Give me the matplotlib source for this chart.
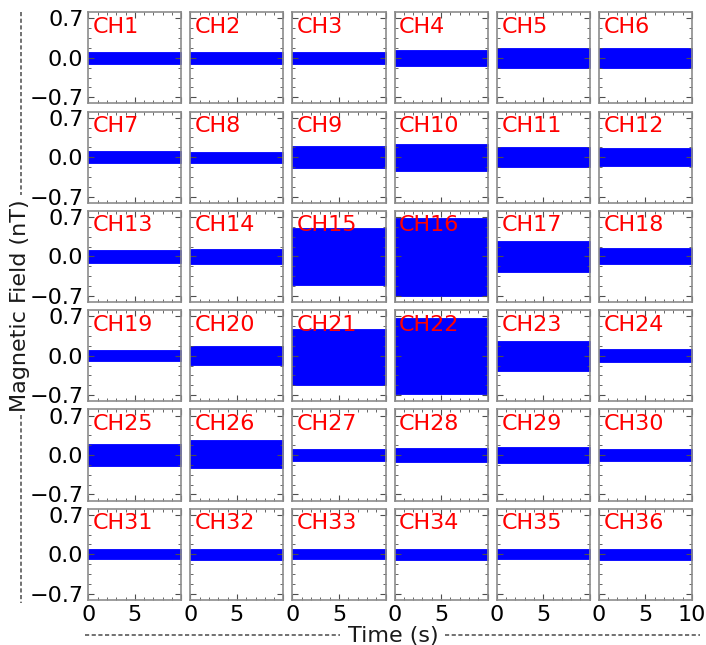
import numpy as np
import matplotlib
matplotlib.use("Agg")
import matplotlib.pyplot as plt
from matplotlib.lines import Line2D
from matplotlib.ticker import AutoMinorLocator

# channel names and the upper / lower edge of each noise band (nT)
channels = ["CH%d" % i for i in range(1, 37)]
upper = [0.10, 0.10, 0.10, 0.14, 0.18, 0.18,
         0.11, 0.10, 0.19, 0.24, 0.18, 0.16,
         0.11, 0.14, 0.50, 0.69, 0.28, 0.15,
         0.10, 0.17, 0.47, 0.67, 0.26, 0.12,
         0.20, 0.27, 0.10, 0.12, 0.14, 0.10,
         0.09, 0.09, 0.09, 0.10, 0.09, 0.10]
lower = [-0.10, -0.10, -0.10, -0.14, -0.18, -0.18,
         -0.11, -0.10, -0.19, -0.24, -0.18, -0.16,
         -0.11, -0.14, -0.51, -0.70, -0.28, -0.14,
         -0.10, -0.17, -0.52, -0.68, -0.27, -0.12,
         -0.20, -0.24, -0.10, -0.12, -0.15, -0.10,
         -0.09, -0.10, -0.09, -0.10, -0.09, -0.11]
t_span = [0, 10]
yticks = [-0.7, 0.0, 0.7]
xticks = [0, 5, 10]

fs = 16
fig, axes = plt.subplots(6, 6, figsize=(7.06, 6.45), dpi=100)
fig.subplots_adjust(left=0.125, right=0.980, top=0.981, bottom=0.070,
                    wspace=0.096, hspace=0.088)

for k, ax in enumerate(axes.flat):
    r, c = divmod(k, 6)
    ax.fill_between(t_span, [lower[k]] * 2, [upper[k]] * 2, color="blue", lw=0.6)
    ax.text(0.05, 0.95, channels[k], transform=ax.transAxes, color="red",
            fontsize=fs, ha="left", va="top")
    ax.set_xlim(0, 10)
    ax.set_ylim(-0.81, 0.81)
    if r == 5:
        labs = ["0", "5", "10"] if c == 5 else ["0", "5", ""]
        ax.set_xticks(xticks, labels=labs)
    else:
        ax.set_xticks(xticks, labels=[])
    if c == 0:
        ax.set_yticks(yticks, labels=["0.7", "0.0", "\u22120.7"][::-1])
    else:
        ax.set_yticks(yticks, labels=[])
    ax.xaxis.set_minor_locator(AutoMinorLocator())
    ax.yaxis.set_minor_locator(AutoMinorLocator())
    ax.tick_params(which="both", direction="in", top=True, right=True,
                   labelsize=fs, color="0.3")
    ax.tick_params(which="major", length=4)
    ax.tick_params(which="minor", length=2)
    for s in ax.spines.values():
        s.set_color("0.55")
        s.set_linewidth(1.2)

# axis titles with dashed leaders
fig.text(0.557, 0.014, "Time (s)", ha="center", va="center", fontsize=fs, color="0.1")
fig.text(0.028, 0.526, "Magnetic Field (nT)", ha="center", va="center",
         rotation=90, fontsize=fs, color="0.1")
dash = dict(color="0.35", lw=1.2, linestyle=(0, (2.5, 1.5)), transform=fig.transFigure)
fig.add_artist(Line2D([0.120, 0.482], [0.016, 0.016], **dash))
fig.add_artist(Line2D([0.630, 0.992], [0.016, 0.016], **dash))
fig.add_artist(Line2D([0.030, 0.030], [0.981, 0.698], **dash))
fig.add_artist(Line2D([0.030, 0.030], [0.357, 0.065], **dash))

fig.savefig("out.png", dpi=100)
